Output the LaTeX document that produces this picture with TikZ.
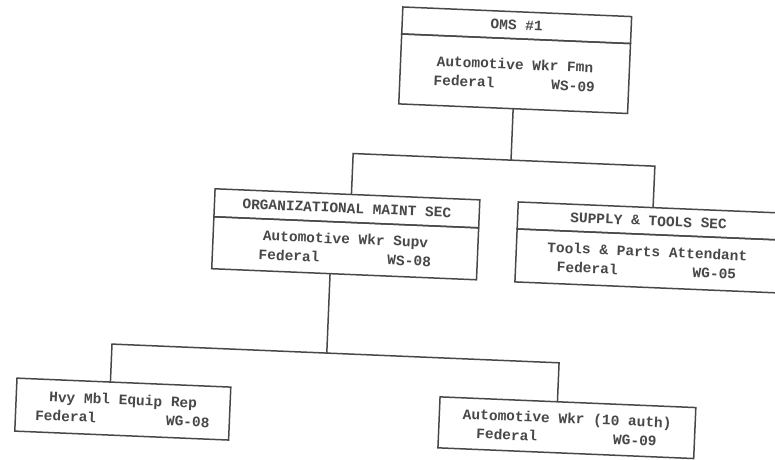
\documentclass[tikz,border=0pt]{standalone}
\usepackage{fontspec}
\setmonofont{Liberation Mono}
\definecolor{ScanInk}{RGB}{72,72,72}
\usetikzlibrary{positioning,calc}

\begin{document}
\begin{tikzpicture}[
    x=1pt, y=-1pt,
    box/.style={rectangle, draw=ScanInk, line width=1.5pt, inner sep=0pt, outer sep=0pt, align=center, text=ScanInk, font=\fontsize{14.5pt}{19pt}\selectfont\ttfamily\bfseries, transform shape},
    wire/.style={draw=ScanInk, line width=1.5pt}
]
    \useasboundingbox (0,0) rectangle (775,459);
    \begin{scope}[rotate around={-2.4:(387,230)}]
    \node[box, minimum width=229pt, minimum height=27pt] (oms) at (508,20) {OMS \#1};
    \node[box, minimum width=229pt, minimum height=70pt, anchor=north] (omsb) at (oms.south) {Automotive Wkr Fmn\\Federal\hspace{57pt}WS-09};
    \node[box, minimum width=265pt, minimum height=28pt] (org) at (346,210) {ORGANIZATIONAL MAINT SEC};
    \node[box, minimum width=265pt, minimum height=52pt, anchor=north] (orgb) at (org.south) {Automotive Wkr Supv\\Federal\hspace{68pt}WS-08};
    \node[box, minimum width=262pt, minimum height=27pt] (sup) at (648,210) {SUPPLY \& TOOLS SEC};
    \node[box, minimum width=262pt, minimum height=53pt, anchor=north] (supb) at (sup.south) {Tools \& Parts Attendant\\Federal\hspace{75pt}WG-05};
    \node[box, minimum width=214pt, minimum height=53pt] (hvy) at (130.5,420) {Hvy Mbl Equip Rep\\Federal\hspace{70pt}WG-08};
    \node[box, minimum width=256pt, minimum height=51pt] (awk) at (575,420) {Automotive Wkr (10 auth)\\Federal\hspace{76pt}WG-09};
    \coordinate (topbar) at (508,155);
    \coordinate (topbarL) at (350,155);
    \coordinate (topbarR) at (652,155);
    \coordinate (lowbar) at (332,355.5);
    \coordinate (lowbarL) at (117,355.5);
    \coordinate (lowbarR) at (564.5,355.5);
    \draw[wire] (omsb.south) -- (topbar);
    \draw[wire] ($(org.north)!0.03!(org.north east)$) -- (topbarL) -- (topbarR) -- ($(sup.north)!0.03!(sup.north east)$);
    \draw[wire] ($(orgb.south)!0.106!(orgb.south west)$) -- (lowbar);
    \draw[wire] ($(hvy.north)!0.126!(hvy.north west)$) -- (lowbarL) -- (lowbarR) -- ($(awk.north)!0.082!(awk.north west)$);
    \end{scope}
\end{tikzpicture}
\end{document}
